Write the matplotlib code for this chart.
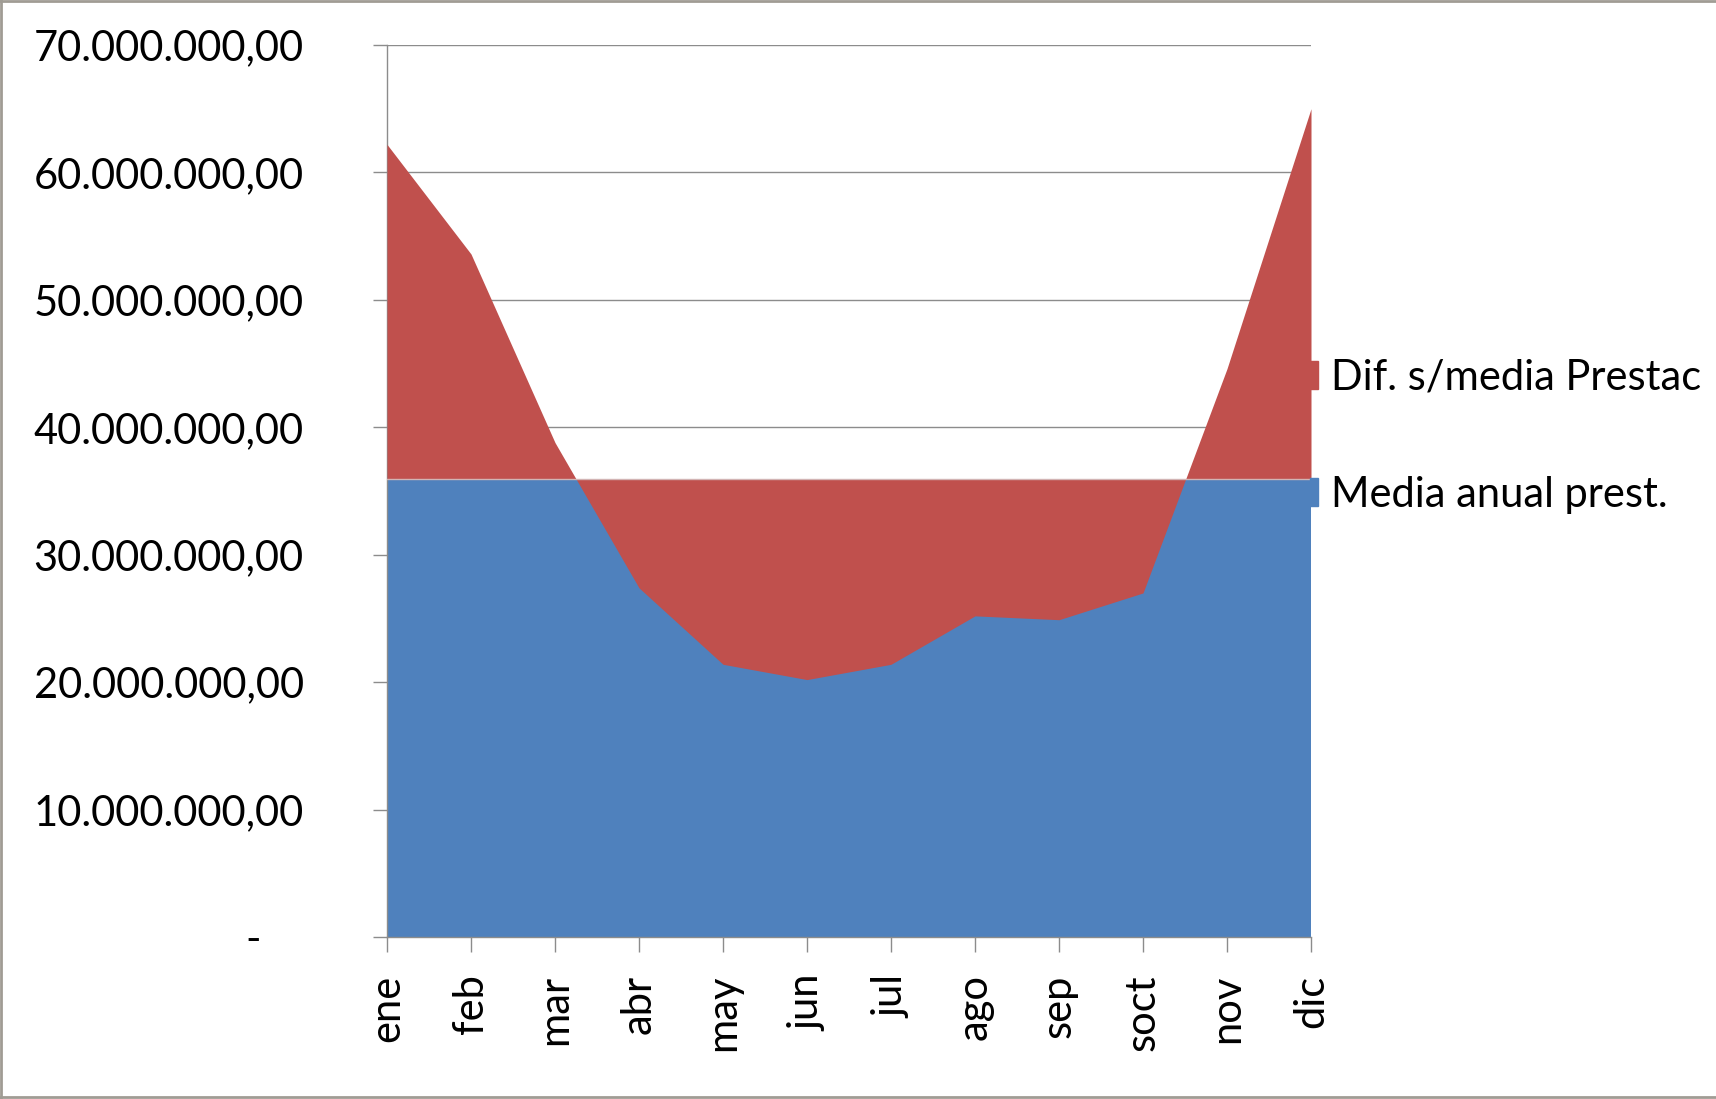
import numpy as np
import matplotlib.pyplot as plt
from matplotlib.patches import Patch
from matplotlib.lines import Line2D
from matplotlib.ticker import FuncFormatter

meses = ["ene", "feb", "mar", "abr", "may", "jun", "jul", "ago", "sep", "soct", "nov", "dic"]
prestaciones = [62.2e6, 53.6e6, 38.8e6, 27.4e6, 21.4e6, 20.2e6,
                21.4e6, 25.2e6, 24.9e6, 27.0e6, 44.6e6, 65.0e6]
etiquetas = ["Dif. s/media Prestac", "Media anual prest."]

rojo = "#C0504D"
azul = "#4F81BD"
gris = "#8C8C8C"
fuente = ["Lato", "DejaVu Sans"]
plt.rcParams["font.family"] = fuente

valores = np.array(prestaciones)
media = valores.mean()
x = np.arange(len(meses))

fig = plt.figure(figsize=(17.16, 10.99), dpi=100)
ax = fig.add_axes([387 / 1716, 1 - 937 / 1099, 924 / 1716, 892 / 1099])

# area azul = media, la roja = diferencia con la media
ax.fill_between(x, 0, media, color=azul, lw=0, zorder=2)
ax.fill_between(x, valores, media, interpolate=True, color=rojo, lw=0, zorder=3)
ax.plot([x[0], x[-1]], [media, media], color="#d2b4b4", lw=1, zorder=4)

ax.set_xlim(0, 11)
ax.set_ylim(0, 70e6)
ax.set_yticks(np.arange(0, 70e6 + 1, 10e6))
ax.set_xticks(x)
ax.set_xticklabels(meses, rotation=90, va="top", ha="center", fontsize=30)


def formato(v, pos):
    if v == 0:
        return "-    "
    s = f"{v:,.2f}"
    return s.replace(",", "X").replace(".", ",").replace("X", ".")


ax.yaxis.set_major_formatter(FuncFormatter(formato))
ax.tick_params(axis="y", length=10, width=1, color=gris, pad=50, labelsize=30)
ax.tick_params(axis="x", length=11, width=1, color=gris, pad=16)
ax.grid(axis="y", color=gris, lw=1, zorder=0)
ax.set_axisbelow(True)
for lado in ["top", "right"]:
    ax.spines[lado].set_visible(False)
for lado in ["left", "bottom"]:
    ax.spines[lado].set_color(gris)
    ax.spines[lado].set_linewidth(1)

fig.legend([Patch(color=rojo), Patch(color=azul)], etiquetas,
           loc="center left", bbox_to_anchor=(1310 / 1716, 1 - 436 / 1099),
           frameon=False, borderpad=0, borderaxespad=0, handlelength=0.2,
           handleheight=0.65, handletextpad=0.3, labelspacing=1.9, fontsize=30)

borde = "#A09C94"
fig.add_artist(Line2D([0.0008, 0.0008], [0, 1], transform=fig.transFigure, color=borde, lw=2))
fig.add_artist(Line2D([0, 1], [0.999, 0.999], transform=fig.transFigure, color=borde, lw=2))
fig.add_artist(Line2D([0, 1], [0.002, 0.002], transform=fig.transFigure, color=borde, lw=2))

fig.savefig("out.png", dpi=100)
